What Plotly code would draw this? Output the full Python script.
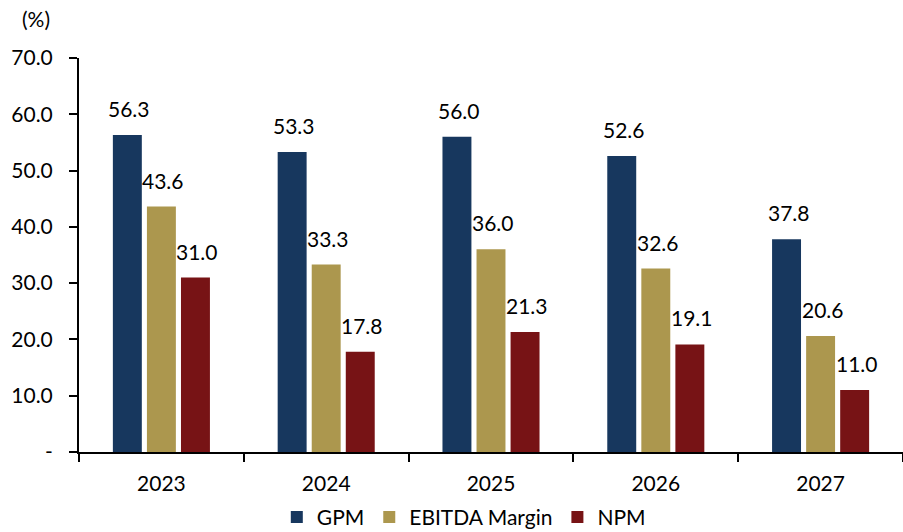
import plotly.graph_objects as go

years = ["2023", "2024", "2025", "2026", "2027"]
gpm = [56.3, 53.3, 56.0, 52.6, 37.8]
ebitda_margin = [43.6, 33.3, 36.0, 32.6, 20.6]
npm = [31.0, 17.8, 21.3, 19.1, 11.0]

y_tickvals = [0, 10, 20, 30, 40, 50, 60, 70]
y_ticktext = ["-", "10.0", "20.0", "30.0", "40.0", "50.0", "60.0", "70.0"]

series = [
    ("GPM", gpm, "#17375E"),
    ("EBITDA Margin", ebitda_margin, "#AC974E"),
    ("NPM", npm, "#771315"),
]

FONT = "Lato, 'Liberation Sans', Arial, sans-serif"
FS = 21

fig = go.Figure()
for name, vals, color in series:
    fig.add_trace(go.Bar(
        x=years, y=vals, name=name,
        marker=dict(color=color, line=dict(width=0)),
    ))

# value labels above each bar (category index + pixel offset of the bar slot)
slot_px = 34
for i, (name, vals, color) in enumerate(series):
    for j, v in enumerate(vals):
        fig.add_annotation(
            x=j, y=v, xref="x", yref="y",
            text=f"{v:.1f}", showarrow=False,
            xshift=(i - 1) * slot_px + 2, yshift=12,
            yanchor="bottom", xanchor="center",
            font=dict(family=FONT, size=FS, color="#000000"),
        )

fig.add_annotation(
    x=0, y=0, xref="paper", yref="paper", text="(%)", showarrow=False,
    xshift=-59, yshift=434, xanchor="left", yanchor="middle",
    font=dict(family=FONT, size=FS, color="#000000"),
)

fig.update_layout(
    width=903, height=532,
    margin=dict(l=79, r=0, t=58, b=80, autoexpand=False),
    paper_bgcolor="white", plot_bgcolor="white",
    barmode="group", bargap=0.38, bargroupgap=0.15,
    font=dict(family=FONT, size=FS, color="#000000"),
    showlegend=True,
    legend=dict(
        orientation="h", x=0.467, xanchor="center", y=-0.166, yanchor="middle",
        font=dict(family=FONT, size=FS, color="#000000"),
        traceorder="normal",
    ),
    xaxis=dict(
        type="category", range=[-0.5, 4.5], categoryorder="array", categoryarray=years,
        showline=True, linecolor="#000000", linewidth=2, automargin=False,
        ticks="outside", tickson="boundaries", ticklen=8, tickwidth=2, tickcolor="#000000",
        showgrid=False, zeroline=False, tickangle=0, ticklabelstandoff=12,
        tickfont=dict(family=FONT, size=FS, color="#000000"),
    ),
    yaxis=dict(
        range=[0, 70], tickvals=y_tickvals, ticktext=y_ticktext,
        showline=True, linecolor="#000000", linewidth=2, automargin=False,
        ticks="outside", ticklen=8, tickwidth=2, tickcolor="#000000",
        showgrid=False, zeroline=False, ticklabelstandoff=12,
        tickfont=dict(family=FONT, size=FS, color="#000000"),
    ),
)

fig.write_html("out.html")
